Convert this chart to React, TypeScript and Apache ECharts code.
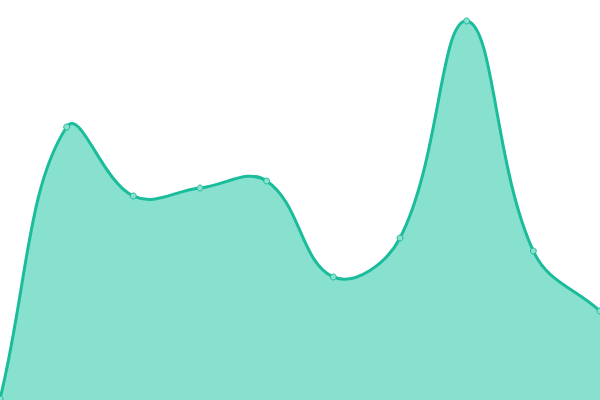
import * as echarts from 'echarts';
import { useEffect, useRef } from 'react';

const categories = ['1', '2', '3', '4', '5', '6', '7', '8', '9', '10'];
const values = [1, 273, 204, 212, 219, 123, 162, 379, 149, 89];

const TENSION = 0.4;

// cubic spline through the points, control points weighted by segment length
function buildPath(pts: number[][], bottom: number) {
    const cps = pts.map((cur, i) => {
        const prev = pts[i - 1] || cur;
        const next = pts[i + 1] || cur;
        const d01 = Math.hypot(cur[0] - prev[0], cur[1] - prev[1]);
        const d12 = Math.hypot(next[0] - cur[0], next[1] - cur[1]);
        let s01 = d01 / (d01 + d12);
        let s12 = d12 / (d01 + d12);
        if (isNaN(s01)) s01 = 0;
        if (isNaN(s12)) s12 = 0;
        const fa = TENSION * s01;
        const fb = TENSION * s12;
        return {
            before: [cur[0] - fa * (next[0] - prev[0]), cur[1] - fa * (next[1] - prev[1])],
            after: [cur[0] + fb * (next[0] - prev[0]), cur[1] + fb * (next[1] - prev[1])],
        };
    });
    let line = `M${pts[0][0]},${pts[0][1]}`;
    for (let i = 1; i < pts.length; i++) {
        const a = cps[i - 1].after;
        const b = cps[i].before;
        line += ` C${a[0]},${a[1]} ${b[0]},${b[1]} ${pts[i][0]},${pts[i][1]}`;
    }
    const last = pts[pts.length - 1];
    const area = `${line} L${last[0]},${bottom} L${pts[0][0]},${bottom} Z`;
    return { line, area };
}

export default function App() {
    const chartRef = useRef<HTMLDivElement>(null);

    useEffect(() => {
        if (!chartRef.current) return;

        const chart = echarts.init(chartRef.current, null, { renderer: 'svg' });

        const option: echarts.EChartsOption = {
            animation: false,
            grid: { left: 0, right: 0, top: 0, bottom: 0 },
            xAxis: {
                type: 'category',
                data: categories,
                boundaryGap: false,
                show: false,
            },
            yAxis: {
                type: 'value',
                min: 0,
                max: 400,
                show: false,
            },
            series: [
                {
                    type: 'custom',
                    clip: false,
                    data: values.map((v, i) => [i, v]),
                    renderItem: (params: any, api: any) => {
                        if (params.dataIndex !== 0) return null;
                        const pts = values.map((v, i) => api.coord([i, v]));
                        const bottom = api.coord([0, 0])[1];
                        const { line, area } = buildPath(pts, bottom);
                        return {
                            type: 'group',
                            children: [
                                { type: 'path', shape: { pathData: area }, style: { fill: '#88e0cf' } },
                                {
                                    type: 'path',
                                    shape: { pathData: line },
                                    style: { fill: 'none', stroke: '#1abc9c', lineWidth: 3 },
                                },
                            ],
                        };
                    },
                },
                {
                    type: 'scatter',
                    data: values,
                    symbol: 'circle',
                    symbolSize: 6,
                    z: 5,
                    itemStyle: { color: '#8ce0ce', borderColor: '#1abc9c', borderWidth: 1, opacity: 1 },
                },
            ],
        };

        chart.setOption(option);

        return () => {
            chart.dispose();
        };
    }, []);

    return (
        <div
            ref={chartRef}
            style={{ position: 'fixed', left: 0, top: 0, width: '600px', height: '400px' }}
        />
    );
}
